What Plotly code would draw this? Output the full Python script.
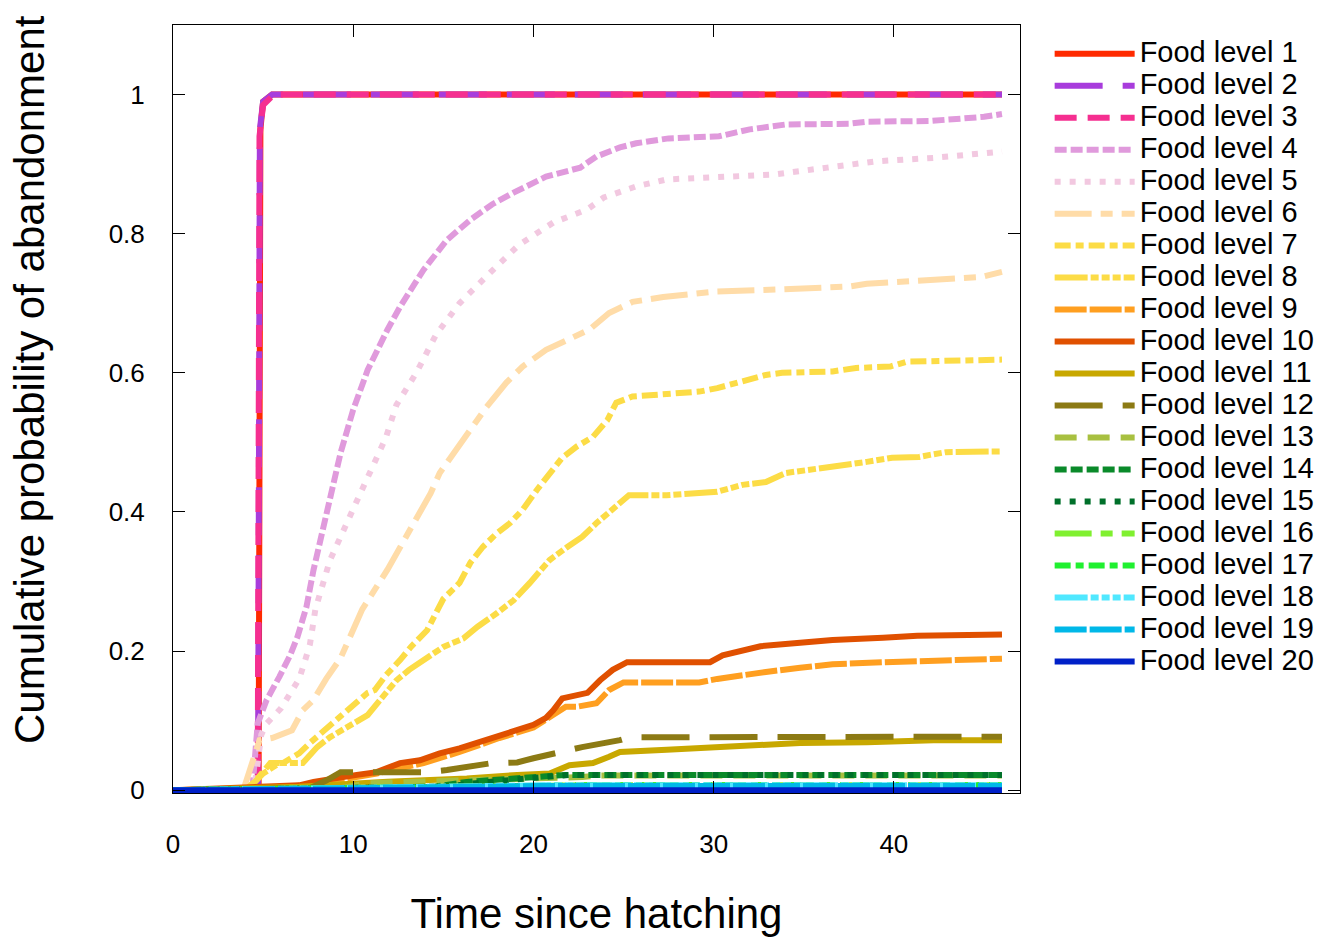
import plotly.graph_objects as go

# ---------------- data ----------------
t1 = [0, 4.75, 4.85, 5.0, 5.5, 46.0]
p1 = [0, 0, 0.95, 0.99, 1.0, 1.0]
t2 = [0, 4.72, 4.82, 5.0, 5.5, 46.0]
p2 = [0, 0, 0.95, 0.99, 1.0, 1.0]
t3 = [0, 4.7, 4.8, 5.0, 5.6, 46.0]
p3 = [0, 0, 0.94, 0.985, 1.0, 1.0]
t4 = [0, 4.4, 4.7, 5.2, 5.9, 6.5, 6.9, 7.4, 7.8, 8.5, 9.3, 10.0, 10.8, 11.9, 12.6, 13.9, 15.2,
      16.5, 17.7, 18.9, 20.7, 22.6, 23.5, 24.8, 25.7, 27.5, 30.3, 32.0, 34.0, 37.5, 38.5, 42.0,
      43.1, 45.0, 46.0]
p4 = [0, 0, 0.096, 0.13, 0.163, 0.194, 0.22, 0.263, 0.317, 0.393, 0.485, 0.547, 0.604, 0.662,
      0.695, 0.748, 0.791, 0.82, 0.842, 0.859, 0.882, 0.895, 0.911, 0.924, 0.93, 0.937, 0.94,
      0.95, 0.957, 0.958, 0.961, 0.962, 0.964, 0.968, 0.972]
t5 = [0, 4.5, 4.9, 5.2, 6.0, 7.0, 7.3, 7.6, 7.9, 8.7, 10.1, 10.9, 11.8, 12.4, 13.5, 14.6, 15.9,
      17.6, 19.2, 21.1, 23.0, 23.9, 25.7, 27.4, 31.1, 33.3, 36.3, 39.0, 42.2, 46.0]
p5 = [0, 0, 0.08, 0.096, 0.118, 0.16, 0.184, 0.21, 0.26, 0.33, 0.41, 0.456, 0.506, 0.554, 0.60,
      0.655, 0.70, 0.744, 0.784, 0.816, 0.835, 0.852, 0.868, 0.878, 0.882, 0.885, 0.895, 0.904,
      0.909, 0.918]
t6 = [0, 3.9, 4.8, 5.5, 6.6, 7.2, 7.8, 8.5, 9.3, 9.9, 10.5, 11.9, 12.7, 13.7, 14.3, 14.8, 15.8,
      16.5, 17.4, 18.5, 19.4, 20.7, 22.0, 23.1, 24.2, 25.5, 27.2, 30.2, 33.8, 37.5, 38.5, 42.2,
      44.9, 46.0]
p6 = [0, 0, 0.072, 0.075, 0.086, 0.115, 0.13, 0.16, 0.19, 0.226, 0.26, 0.317, 0.355, 0.403,
      0.427, 0.456, 0.494, 0.518, 0.551, 0.586, 0.609, 0.633, 0.65, 0.662, 0.686, 0.702, 0.709,
      0.717, 0.72, 0.724, 0.728, 0.734, 0.738, 0.745]
t7 = [0, 4.0, 4.6, 5.4, 6.1, 7.0, 7.6, 8.5, 9.4, 10.8, 11.2, 11.8, 12.6, 13.2, 14.1, 15.0, 15.9,
      16.5, 17.2, 18.0, 18.7, 19.4, 20.2, 20.9, 21.6, 22.4, 23.3, 24.1, 24.6, 25.5, 27.4, 29.2,
      30.2, 31.4, 32.9, 33.8, 36.6, 37.9, 39.8, 40.7, 42.2, 46.0]
p7 = [0, 0, 0.014, 0.039, 0.039, 0.053, 0.068, 0.089, 0.108, 0.14, 0.144, 0.165, 0.187, 0.206,
      0.23, 0.275, 0.298, 0.327, 0.35, 0.37, 0.384, 0.403, 0.432, 0.456, 0.478, 0.494, 0.508,
      0.532, 0.557, 0.566, 0.57, 0.573, 0.578, 0.587, 0.597, 0.60, 0.602, 0.607, 0.609, 0.616,
      0.617, 0.619]
t8 = [0, 4.1, 5.0, 5.9, 7.2, 8.0, 8.7, 9.6, 10.8, 11.5, 12.4, 13.1, 14.1, 15.0, 16.1, 16.9,
      18.0, 18.9, 19.8, 20.9, 21.9, 22.7, 23.5, 24.2, 24.8, 25.3, 27.4, 29.2, 30.2, 31.6, 32.9,
      34.0, 35.2, 37.0, 38.5, 39.9, 41.4, 42.0, 42.9, 46.0]
p8 = [0, 0, 0.024, 0.039, 0.039, 0.062, 0.076, 0.09, 0.108, 0.13, 0.158, 0.173, 0.19, 0.206,
      0.218, 0.235, 0.255, 0.273, 0.298, 0.331, 0.35, 0.364, 0.384, 0.40, 0.414, 0.424, 0.424,
      0.426, 0.429, 0.439, 0.443, 0.456, 0.46, 0.468, 0.472, 0.478, 0.479, 0.482, 0.486, 0.487]
t9 = [0, 4.8, 7.5, 9.3, 11.3, 13.9, 15.9, 18.1, 20.0, 21.8, 22.4, 23.5, 24.2, 25.0, 29.2, 30.2,
      31.4, 32.9, 34.8, 36.6, 39.4, 42.2, 46.0]
p9 = [0, 0.003, 0.007, 0.015, 0.024, 0.039, 0.055, 0.075, 0.09, 0.12, 0.12, 0.125, 0.144, 0.155,
      0.155, 0.16, 0.165, 0.17, 0.176, 0.181, 0.184, 0.187, 0.189]
t10 = [0, 4.8, 7.0, 7.8, 9.3, 10.2, 11.3, 12.6, 13.7, 14.8, 15.9, 17.0, 18.1, 19.2, 20.0, 20.7,
       21.1, 21.6, 23.0, 23.7, 24.4, 25.2, 29.8, 30.5, 31.4, 32.6, 34.8, 36.6, 39.4, 41.3, 46.0]
p10 = [0, 0.005, 0.007, 0.012, 0.017, 0.022, 0.026, 0.039, 0.043, 0.053, 0.06, 0.069, 0.079,
       0.089, 0.094, 0.104, 0.115, 0.132, 0.14, 0.158, 0.173, 0.184, 0.184, 0.194, 0.199, 0.207,
       0.212, 0.216, 0.219, 0.222, 0.224]
t11 = [0, 7.0, 11.9, 14.4, 16.3, 19.1, 20.9, 22.0, 23.3, 24.2, 24.8, 27.4, 31.1, 34.8, 38.5,
       42.2, 46.0]
p11 = [0, 0.005, 0.012, 0.014, 0.017, 0.022, 0.024, 0.036, 0.039, 0.048, 0.055, 0.058, 0.062,
       0.068, 0.069, 0.072, 0.072]
t12 = [0, 7.6, 8.5, 9.3, 14.1, 15.2, 17.7, 19.1, 20.0, 21.5, 22.7, 24.8, 25.3, 46.0]
p12 = [0, 0.003, 0.014, 0.026, 0.026, 0.029, 0.039, 0.04, 0.046, 0.055, 0.062, 0.072, 0.076, 0.077]
t13 = [0, 9.3, 10.8, 18.1, 20.0, 22.7, 23.5, 46.0]
p13 = [0, 0.003, 0.01, 0.014, 0.017, 0.019, 0.021, 0.021]
t14 = [0, 14.5, 16.3, 17.4, 19.1, 20.9, 21.8, 46.0]
p14 = [0, 0.005, 0.012, 0.014, 0.017, 0.019, 0.022, 0.022]
t15 = [0, 15.0, 17.5, 20.0, 22.0, 46.0]
p15 = [0, 0.005, 0.012, 0.018, 0.022, 0.022]
t16 = [0, 18.0, 22.0, 46.0]
p16 = [0, 0.004, 0.007, 0.007]
t17 = [0, 19.0, 23.0, 46.0]
p17 = [0, 0.004, 0.007, 0.007]
t18 = [0, 12.5, 20.5, 46.0]
p18 = [0, 0.003, 0.007, 0.007]
t19 = [0, 12.8, 20.5, 46.0]
p19 = [0, 0.003, 0.006, 0.006]
t20 = [0, 46.0]
p20 = [0, 0]

series_t = [t1, t2, t3, t4, t5, t6, t7, t8, t9, t10, t11, t12, t13, t14, t15, t16, t17, t18, t19, t20]
series_p = [p1, p2, p3, p4, p5, p6, p7, p8, p9, p10, p11, p12, p13, p14, p15, p16, p17, p18, p19, p20]
names = [f"Food level {i}" for i in range(1, 21)]

x_ticks = [0, 10, 20, 30, 40]
y_ticks = [0, 0.2, 0.4, 0.6, 0.8, 1]
y_tick_text = ["0", "0.2", "0.4", "0.6", "0.8", "1"]
x_title = "Time since hatching"
y_title = "Cumulative probability of abandonment"

# ---------------- styles ----------------
colors = ["#FF2A00", "#A83CDC", "#F52F90", "#E09ADC", "#F2C8E0", "#FFDCA8", "#FCDC46",
          "#FCDC46", "#FF9F20", "#E05000", "#C8A800", "#8C7A14", "#A8C040", "#0A8A2A",
          "#00702A", "#80F030", "#20F030", "#50E8FF", "#00B8E8", "#0020C8"]
dash_cycle = ["solid", "48px,20px", "22px,11px", "12px,4px", "6px,9px", "37px,9px,12px,9px",
              "16px,5px,8px,5px", "33px,3px,8px,3px,8px,3px,8px,3px", "32px,3px", "solid"]
dashes = dash_cycle + dash_cycle

FONT = "Liberation Sans, Arial, sans-serif"

fig = go.Figure()
for i in range(20):
    fig.add_trace(go.Scatter(
        x=series_t[i], y=series_p[i], mode="lines",
        name='<span style="font-size:29px">' + names[i] + "</span>",
        line=dict(color=colors[i], width=6, dash=dashes[i]),
        cliponaxis=False,
    ))

fig.update_layout(
    width=1340, height=942,
    margin=dict(l=173, r=320, t=25, b=149),
    paper_bgcolor="white", plot_bgcolor="white",
    font=dict(family=FONT, color="black", size=26),
    showlegend=True,
    legend=dict(
        x=1.035, xanchor="left", y=0.99, yanchor="top",
        font=dict(family=FONT, size=22.3, color="black"),
        itemwidth=80, bgcolor="rgba(0,0,0,0)", borderwidth=0,
        tracegroupgap=0,
    ),
    annotations=[dict(
        text=y_title, textangle=-90, xref="paper", yref="paper",
        x=-0.1688, y=0.5378, xanchor="center", yanchor="middle", showarrow=False,
        font=dict(family=FONT, size=42, color="black"),
    )],
)
fig.update_xaxes(
    range=[0, 47], tickvals=x_ticks, ticks="inside", ticklen=12, tickcolor="black",
    showline=True, linecolor="black", linewidth=1, mirror="ticks",
    showgrid=False, zeroline=False, tickfont=dict(size=26), ticklabelstandoff=28,
    title=dict(text=x_title, font=dict(size=42), standoff=40),
)
fig.update_yaxes(
    range=[-0.004, 1.1], tickvals=y_ticks, ticktext=y_tick_text, ticks="inside", ticklen=12,
    tickcolor="black", showline=True, linecolor="black", linewidth=1, mirror="ticks",
    showgrid=False, zeroline=False, tickfont=dict(size=26), ticklabelstandoff=22,
)

fig.write_html("out.html")
